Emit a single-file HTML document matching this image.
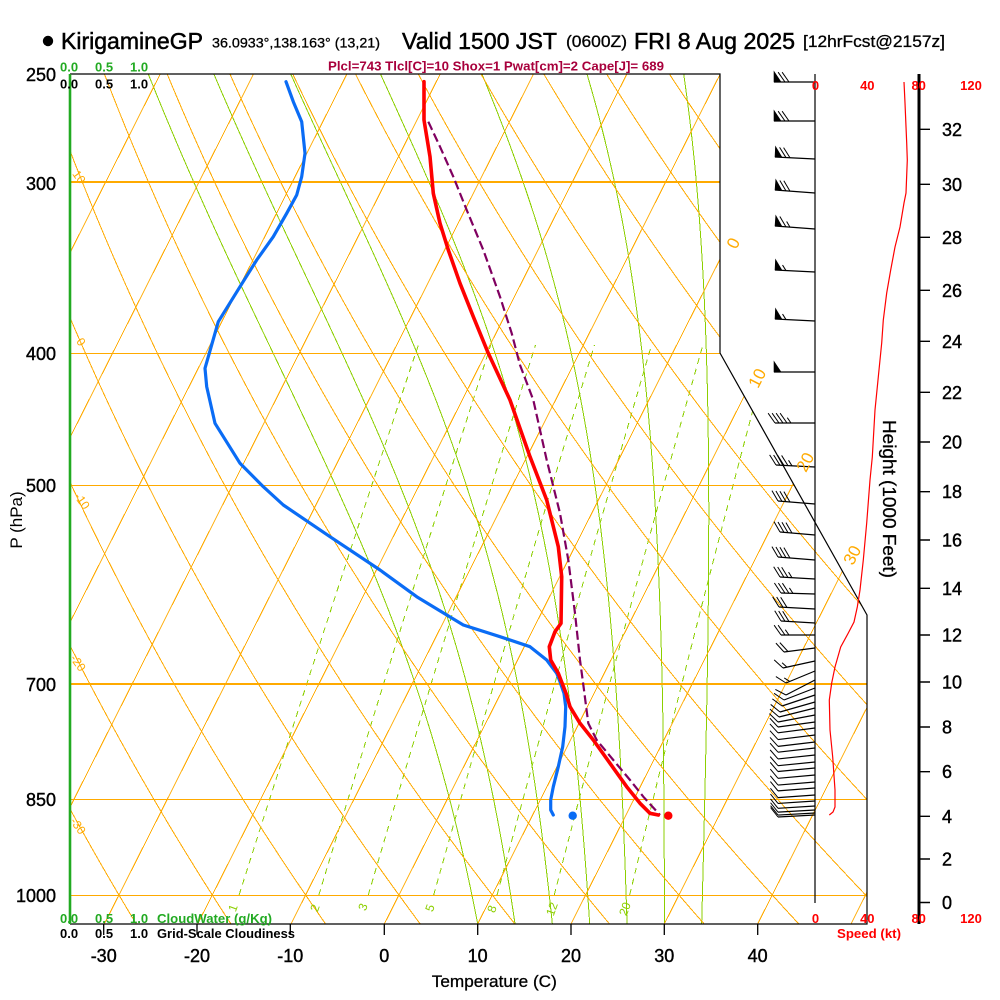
<!DOCTYPE html>
<html><head><meta charset="utf-8"><title>Skew-T KirigamineGP</title>
<style>
html,body{margin:0;padding:0;background:#fff;width:1000px;height:1000px;overflow:hidden}
svg{display:block}
text{font-family:"Liberation Sans",Arial,Helvetica,sans-serif}
</style></head><body>
<svg id="svg" xmlns="http://www.w3.org/2000/svg" width="1000" height="1000" viewBox="0 0 1000 1000">
<defs><clipPath id="cp"><polygon points="70,74 720,74 720,353 867,615 867,924 70,924"/></clipPath></defs>
<rect width="1000" height="1000" fill="#fff"/>
<g id="grid" clip-path="url(#cp)" fill="none" shape-rendering="crispEdges"></g>

<!-- profiles -->
<polyline fill="none" stroke="#0a6cf5" stroke-width="3.2" stroke-linejoin="round" stroke-linecap="round" points="286,81.7 293.3,101.7 301.7,121.7 305,153.3 301.7,176.7 296.7,195 286.7,213.3 273.3,236.7 256.7,260 240,286.7 218.3,321.7 205,368.3 206.7,386.7 215,423.3 240,463.3 263.3,486.7 283.3,505 330,536.7 380,570 416.7,596.7 463.3,625 500,636.7 530,646.7 546.7,660 556.7,673.3 560,681.7 564,693.3 565.7,706.7 565,726.7 562.7,746.7 558.3,766.7 553.3,786.7 550.7,800 550.7,810 553.3,815"/>
<polyline fill="none" stroke="#800060" stroke-width="2.2" stroke-dasharray="9 4" points="428.3,121.7 440,146.7 453.3,176.7 466.7,210 483.3,250 500,296.7 511.7,333.3 520,365 533.3,400 546.7,460 560,513.3 568.3,560 575,613.3 580,660 584,690 585.7,703.3 588.3,723.3 596.7,740 613.3,760 630,780 643.3,796.7 660,815"/>
<polyline fill="none" stroke="#ff0000" stroke-width="3.6" stroke-linejoin="round" stroke-linecap="round" points="424,81.7 424,120 430,156.7 433.3,193.3 440,223.3 448.3,250 460,283.3 473.3,316.7 488.3,353.3 510,400 530,456.7 546.7,500 558.3,546.7 561.7,576.7 561,623.3 555,631.7 549.3,646.7 550.7,660 558.3,673.3 566,693.3 570,706.7 580,723.3 593.3,740 610,763.3 626.7,786.7 640,803.3 650,813.3 658.3,815"/>
<circle cx="572.7" cy="815.7" r="4.2" fill="#0a6cf5"/>
<circle cx="668.3" cy="815.7" r="4.2" fill="#ff0000"/>

<!-- frame -->
<path d="M70,74H720V353L867,615V924H70" fill="none" stroke="#000" stroke-width="1.2"/>
<path d="M70,74V924" stroke="#22aa22" stroke-width="2.6"/>
<path d="M103.7,924V935M197,924V935M290.3,924V935M384.3,924V935M477.7,924V935M571,924V935M664.3,924V935M757.7,924V935" stroke="#000" stroke-width="1.3"/>
<path d="M815,74V903" stroke="#000" stroke-width="1.2"/>
<path d="M919,74V924" stroke="#000" stroke-width="3"/>
<path d="M919,129.3H930M919,184.3H930M919,237.3H930M919,290.3H930M919,341.3H930M919,392.3H930M919,442H930M919,491.7H930M919,540H930M919,588.3H930M919,635H930M919,682H930M919,727H930M919,771.7H930M919,816.3H930M919,859H930M919,902.5H930" stroke="#000" stroke-width="1.4"/>

<!-- wind speed profile -->
<polyline fill="none" stroke="#ff0000" stroke-width="1.2" points="904,82 905,103 906.7,143 907.3,160 906,193 904,203 900,227 895,247 890.7,270 886.7,293 883.3,320 881.7,343 878.3,377 875,410 872.3,457 870,480 866.7,523 863.3,560 860,590 857.3,607 854,622 848.3,633 840.7,647 835,667 831.7,683 829.3,700 830,730 832.7,757 835,790 835,807 833,812 829.3,815"/>

<g id="wind"></g>

<!-- title -->
<circle cx="48" cy="41" r="5.2" fill="#000"/>
<g fill="#000" stroke="#000" stroke-width="0.5">
<text x="61" y="49" font-size="23" textLength="142" lengthAdjust="spacingAndGlyphs">KirigamineGP</text>
<text x="402" y="49" font-size="23" textLength="155" lengthAdjust="spacingAndGlyphs">Valid 1500 JST</text>
<text x="634" y="49" font-size="23" textLength="161" lengthAdjust="spacingAndGlyphs">FRI 8 Aug 2025</text>
</g>
<g fill="#000" stroke="#000" stroke-width="0.3">
<text x="212" y="47.5" font-size="14" textLength="168" lengthAdjust="spacingAndGlyphs">36.0933°,138.163° (13,21)</text>
<text x="566" y="47" font-size="17" textLength="61" lengthAdjust="spacingAndGlyphs">(0600Z)</text>
<text x="803" y="47" font-size="17" textLength="142" lengthAdjust="spacingAndGlyphs">[12hrFcst@2157z]</text>
</g>
<text x="328" y="70.5" font-size="13" font-weight="bold" fill="#a8003c" textLength="336" lengthAdjust="spacingAndGlyphs">Plcl=743 Tlcl[C]=10 Shox=1 Pwat[cm]=2 Cape[J]= 689</text>

<!-- cloud scales -->
<g font-size="13" font-weight="bold" fill="#22aa22">
<text x="60" y="71.7">0.0</text><text x="95" y="71.7">0.5</text><text x="130" y="71.7">1.0</text>
<text x="60" y="923">0.0</text><text x="95" y="923">0.5</text><text x="130" y="923">1.0</text>
<text x="157" y="923" textLength="115" lengthAdjust="spacingAndGlyphs">CloudWater (g/Kg)</text>
</g>
<g font-size="13" font-weight="bold" fill="#000">
<text x="60" y="88.3">0.0</text><text x="95" y="88.3">0.5</text><text x="130" y="88.3">1.0</text>
<text x="60" y="938">0.0</text><text x="95" y="938">0.5</text><text x="130" y="938">1.0</text>
<text x="157" y="938" textLength="138" lengthAdjust="spacingAndGlyphs">Grid-Scale Cloudiness</text>
</g>

<!-- pressure labels -->
<g font-size="18" text-anchor="end" fill="#000" stroke="#000" stroke-width="0.4">
<text x="56" y="81">250</text>
<text x="56" y="190">300</text>
<text x="56" y="360">400</text>
<text x="56" y="492">500</text>
<text x="56" y="691">700</text>
<text x="56" y="806">850</text>
<text x="56" y="902">1000</text>
</g>
<text transform="translate(22,520) rotate(-90)" text-anchor="middle" font-size="17" fill="#000">P (hPa)</text>

<!-- temperature labels -->
<g font-size="18" text-anchor="middle" fill="#000" stroke="#000" stroke-width="0.4">
<text x="103.7" y="962">-30</text>
<text x="197" y="962">-20</text>
<text x="290.3" y="962">-10</text>
<text x="384.3" y="962">0</text>
<text x="477.7" y="962">10</text>
<text x="571" y="962">20</text>
<text x="664.3" y="962">30</text>
<text x="757.7" y="962">40</text>
</g>
<text x="494.3" y="987" font-size="17" text-anchor="middle" fill="#000" stroke="#000" stroke-width="0.3" textLength="125" lengthAdjust="spacingAndGlyphs">Temperature (C)</text>

<!-- height labels -->
<g font-size="18" fill="#000" stroke="#000" stroke-width="0.4">
<text x="942" y="135.8">32</text>
<text x="942" y="190.8">30</text>
<text x="942" y="243.8">28</text>
<text x="942" y="296.8">26</text>
<text x="942" y="347.8">24</text>
<text x="942" y="398.8">22</text>
<text x="942" y="448.5">20</text>
<text x="942" y="498.2">18</text>
<text x="942" y="546.5">16</text>
<text x="942" y="594.8">14</text>
<text x="942" y="641.5">12</text>
<text x="942" y="688.5">10</text>
<text x="942" y="733.5">8</text>
<text x="942" y="778.2">6</text>
<text x="942" y="822.8">4</text>
<text x="942" y="865.5">2</text>
<text x="942" y="909">0</text>
</g>
<text transform="translate(883,499) rotate(90)" text-anchor="middle" font-size="18" fill="#000" stroke="#000" stroke-width="0.3" textLength="158" lengthAdjust="spacingAndGlyphs">Height (1000 Feet)</text>

<!-- speed labels -->
<g font-size="13" font-weight="bold" fill="#ff0000" text-anchor="middle">
<text x="815.5" y="90">0</text><text x="867.3" y="90">40</text><text x="918.7" y="90">80</text><text x="971" y="90">120</text>
<text x="815.5" y="923">0</text><text x="867.3" y="923">40</text><text x="918.7" y="923">80</text><text x="971" y="923">120</text>
</g>
<text x="837" y="938" font-size="13" font-weight="bold" fill="#ff0000" textLength="64" lengthAdjust="spacingAndGlyphs">Speed (kt)</text>

<!-- isotherm labels -->
<g font-size="17" fill="#ffaa00" text-anchor="middle">
<text transform="translate(733,243) rotate(-63)" dy="6">0</text>
<text transform="translate(757,378) rotate(-63)" dy="6">10</text>
<text transform="translate(805,462) rotate(-63)" dy="6">20</text>
<text transform="translate(852,555) rotate(-63)" dy="6">30</text>
</g>
<!-- dry adiabat labels -->
<g font-size="12" fill="#ffaa00" text-anchor="middle">
<text transform="translate(79,177) rotate(55)" dy="4">10</text>
<text transform="translate(81,342) rotate(55)" dy="4">0</text>
<text transform="translate(82,501) rotate(55)" dy="4">-10</text>
<text transform="translate(78,663) rotate(55)" dy="4">-20</text>
<text transform="translate(78,826) rotate(55)" dy="4">-30</text>
</g>
<!-- mixing ratio labels -->
<g font-size="12" fill="#8ccf00" text-anchor="middle">
<text transform="translate(233,908) rotate(-70)" dy="4">1</text>
<text transform="translate(315,908) rotate(-70)" dy="4">2</text>
<text transform="translate(363,907) rotate(-70)" dy="4">3</text>
<text transform="translate(430,908) rotate(-70)" dy="4">5</text>
<text transform="translate(492,909) rotate(-70)" dy="4">8</text>
<text transform="translate(552,909) rotate(-70)" dy="4">12</text>
<text transform="translate(625,909) rotate(-70)" dy="4">20</text>
</g>
</svg>
<script>
(function(){
var NS="http://www.w3.org/2000/svg";
var grid=document.getElementById('grid');
var wind=document.getElementById('wind');
function X(T,y){return 384.3+9.333*T+0.505*(924-y);}
function Y(p){return 895-592*Math.log(1000/p);}
function mk(parent,tag,attrs){var e=document.createElementNS(NS,tag);for(var k in attrs)e.setAttribute(k,attrs[k]);parent.appendChild(e);return e;}
function pl(parent,pts,attrs){var d='';for(var i=0;i<pts.length;i++){d+=(i?'L':'M')+pts[i][0].toFixed(2)+','+pts[i][1].toFixed(2);}attrs.d=d;if(!attrs.fill)attrs.fill='none';return mk(parent,'path',attrs);}
var OR='#ffaa00',GR='#8ccf00';
// mixing ratio lines
[1,2,3,5,8,12,20].forEach(function(w){var pts=[];for(var p=1000;p>=395;p-=5){var e=w*p/(622+w);var a=Math.log(e/6.112);var T=243.5*a/(17.67-a);var y=Y(p);pts.push([X(T,y),y]);}pl(grid,pts,{stroke:GR,'stroke-width':1,'stroke-dasharray':'6 5'});});
// moist adiabats
function es(Tc){return 6.112*Math.exp(17.67*Tc/(Tc+243.5));}
function thE(TK,p){var e=es(TK-273.15);var r=622*e/(p-e);var th=TK*Math.pow(1000/p,0.2854);return th*Math.exp(1.03*(3.376/TK-0.00254)*r*(1+0.00081*r));}
[10,14,18,22,26,30,34].forEach(function(T0){var tg=thE(T0+273.15,1050);var pts=[];for(var p=1050;p>=240;p-=5){var lo=140,hi=T0+274.15;for(var i=0;i<45;i++){var m=(lo+hi)/2;if(thE(m,p)>tg)hi=m;else lo=m;}var T=(lo+hi)/2-273.15;var y=Y(p);pts.push([X(T,y),y]);}pl(grid,pts,{stroke:GR,'stroke-width':1});});
// isotherms
for(var T=-140;T<=60;T+=10){pl(grid,[[X(T,924),924],[X(T,74),74]],{stroke:OR,'stroke-width':1});}
// dry adiabats
for(var th=-60;th<=220;th+=10){var pts=[];for(var p=1060;p>=240;p-=5){var t=(th+273.15)*Math.pow(p/1000,0.286)-273.15;var y=Y(p);pts.push([X(t,y),y]);}pl(grid,pts,{stroke:OR,'stroke-width':1});}
// pressure lines
[[300,2],[400,1],[500,1],[700,2],[850,1],[1000,1]].forEach(function(a){var y=Math.round(Y(a[0]));if(a[1]===1)y+=0.5;pl(grid,[[70,y],[870,y]],{stroke:OR,'stroke-width':a[1]});});
// wind barbs
function barb(yR,Lx,Ly,spd){var Rx=815;var dx=Lx-Rx,dy=Ly-yR;var L=Math.sqrt(dx*dx+dy*dy);dx/=L;dy/=L;
pl(wind,[[Rx,yR],[Lx,Ly]],{stroke:'#000','stroke-width':1.2});
var ux=-dy,uy=dx;var c=Math.cos(55*Math.PI/180),s=Math.sin(55*Math.PI/180);var fx=dx*c-dy*s,fy=dx*s+dy*c;
var pos=0,v=spd,bx,by;
while(v>=50){bx=Lx-dx*pos;by=Ly-dy*pos;var b2x=Lx-dx*(pos+7),b2y=Ly-dy*(pos+7);mk(wind,'polygon',{points:bx+','+by+' '+(bx+ux*10.5)+','+(by+uy*10.5)+' '+b2x+','+b2y,fill:'#000',stroke:'#000','stroke-width':0.6});pos+=11;v-=50;}
while(v>=10){bx=Lx-dx*pos;by=Ly-dy*pos;pl(wind,[[bx,by],[bx+fx*12,by+fy*12]],{stroke:'#000','stroke-width':1});pos+=4;v-=10;}
if(v>=5){bx=Lx-dx*pos;by=Ly-dy*pos;pl(wind,[[bx,by],[bx+fx*6.5,by+fy*6.5]],{stroke:'#000','stroke-width':1});}
}
var B=[[82,774,82,70],[121,774,121,70],[159,775,157,70],[193,775,190,70],[229,775,226,65],[272,775,270,55],[321,775,319,55],[372,774,372,50],[423,775,423,45],[467,776,465,45],[504,778,501,40],[535,780,532,40],[560,778,557,40],[579,780,577,35],[594,781,593,35],[609,779,607,30],[623,781,621,30],[635,781,635,25],[648,784,652,20],[661,783,668,15],[671,786,683,15],[680,786,695,10],[688,784,700,10],[695,782,706,10],[702,780,712,10],[708,779,717,10],[715,778,722,10]];
B.forEach(function(b){barb(b[0],b[1],b[2],b[3]);});
[722,728,735,742,748,755,762,768,775,782,788,795,801,806,810,813,815].forEach(function(y){barb(y,778,y+5-((y-722)/93)*3,10);});
})();
</script>
</body></html>
